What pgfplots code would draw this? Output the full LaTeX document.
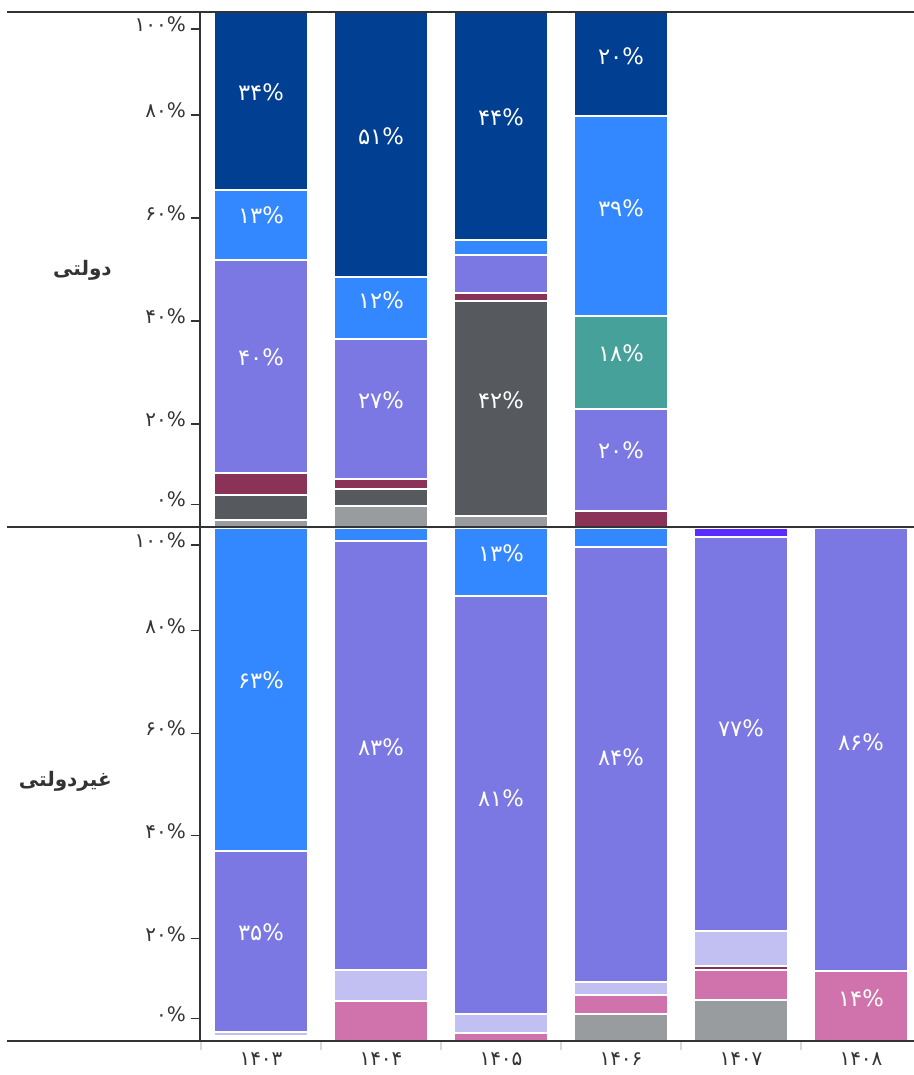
\documentclass[border=0pt]{standalone}
\usepackage{pgfplots}
\pgfplotsset{compat=1.18}
\usepackage{fontspec}
\setmainfont{DejaVu Sans}
\TeXXeTstate=1
\newfontfamily\pf[Script=Arabic]{DejaVu Sans}
\definecolor{cgray}{HTML}{999C9F}
\definecolor{cdark}{HTML}{565A5E}
\definecolor{cmaroon}{HTML}{8B3259}
\definecolor{cpurple}{HTML}{7B78E4}
\definecolor{cteal}{HTML}{46A19B}
\definecolor{cblue}{HTML}{3388FF}
\definecolor{cnavy}{HTML}{003F91}
\definecolor{cpink}{HTML}{D073AC}
\definecolor{clav}{HTML}{C2BFF2}
\definecolor{cviolet}{HTML}{5B2BFF}
\definecolor{ctext}{HTML}{333333}
\definecolor{cline}{HTML}{333333}
\pgfplotsset{
  panel/.style={
    scale only axis, width=535.5pt,
    ybar stacked, bar width=0.783,
    xmin=-0.5083, xmax=5.4417, ymin=0, ymax=100,
    axis x line*=bottom, axis y line*=left,
    x axis line style={draw=none},
    y axis line style={draw=cline, line width=1pt},
    ytick={20,40,60,80},
    yticklabels={{\pf ۲۰\%},{\pf ۴۰\%},{\pf ۶۰\%},{\pf ۸۰\%}},
    extra y ticks={4.4,96.7},
    extra y tick labels={{\pf ۰\%},{\pf ۱۰۰\%}},
    extra y tick style={tick style={draw=none}},
    tick align=outside, major tick length=7pt, minor tick length=7pt,
    y tick style={draw=cline, line width=1pt},
    yticklabel style={font=\fontsize{15}{15}\selectfont, text=ctext, yshift=3.5pt},
    every axis plot/.append style={draw=white, line width=1.5pt, mark=none},
    clip=false,
  },
  labels/.style={
    scale only axis, width=535.5pt, hide axis, clip=false,
    xmin=-0.5083, xmax=5.4417, ymin=0, ymax=100,
    nodes near coords={\pf\pgfplotspointmeta},
    point meta=explicit symbolic,
    every node near coord/.style={anchor=center, font=\fontsize{17}{17}\selectfont, text=white},
  },
}
\begin{document}
\begin{tikzpicture}
\useasboundingbox (0pt,0pt) rectangle (685.5pt,806.25pt);
% top panel
\begin{axis}[panel, height=386.25pt, at={(150pt,411pt)}, anchor=south west,
  xtick=\empty]
\addplot[fill=cgray] coordinates {(0,1.4)(1,4.1)(2,2.1)(3,0)};
\addplot[fill=cdark] coordinates {(0,4.8)(1,3.3)(2,41.8)(3,0)};
\addplot[fill=cmaroon] coordinates {(0,4.3)(1,1.9)(2,1.5)(3,3.1)};
\addplot[fill=cpurple] coordinates {(0,41.3)(1,27.2)(2,7.4)(3,19.8)};
\addplot[fill=cteal] coordinates {(0,0)(1,0)(2,0)(3,18.1)};
\addplot[fill=cblue] coordinates {(0,13.6)(1,12.0)(2,2.9)(3,38.8)};
\addplot[fill=cnavy] coordinates {(0,34.6)(1,51.5)(2,44.3)(3,20.2)};
\end{axis}
\begin{axis}[labels, height=386.25pt, at={(150pt,411pt)}, anchor=south west]
\addplot[only marks, mark=none] coordinates {
(0,84.47)[۳۴\%] (0,60.58)[۱۳\%] (0,33.01)[۴۰\%]
(1,75.92)[۵۱\%] (1,44.08)[۱۲\%] (1,24.66)[۲۷\%]
(2,79.61)[۴۴\%] (2,24.66)[۴۲\%]
(3,91.46)[۲۰\%] (3,61.94)[۳۹\%] (3,33.79)[۱۸\%] (3,14.95)[۲۰\%]
};
\end{axis}
% bottom panel
\begin{axis}[panel, height=384.75pt, at={(150pt,25.5pt)}, anchor=south west,
  xtick={0,1,2,3,4,5},
  xticklabels={{\pf ۱۴۰۳},{\pf ۱۴۰۴},{\pf ۱۴۰۵},{\pf ۱۴۰۶},{\pf ۱۴۰۷},{\pf ۱۴۰۸}},
  major x tick style={draw=none},
  minor xtick={-0.5,0.5,1.5,2.5,3.5,4.5},
  minor x tick style={draw=black!15, line width=1pt},
  xticklabel style={font=\fontsize{15}{15}\selectfont, text=ctext, yshift=1.5pt},
]
\addplot[fill=white] coordinates {(0,1.0)(1,0)(2,0)(3,0)(4,0)(5,0)};
\addplot[fill=cgray] coordinates {(0,0)(1,0)(2,0)(3,5.3)(4,8.0)(5,0)};
\addplot[fill=cpink] coordinates {(0,0)(1,7.8)(2,1.6)(3,3.7)(4,5.9)(5,13.6)};
\addplot[fill=cmaroon] coordinates {(0,0)(1,0)(2,0)(3,0)(4,0.7)(5,0)};
\addplot[fill=clav] coordinates {(0,0.8)(1,6.1)(2,3.7)(3,2.5)(4,6.9)(5,0)};
\addplot[fill=cpurple] coordinates {(0,35.3)(1,83.5)(2,81.5)(3,84.7)(4,76.7)(5,86.4)};
\addplot[fill=cblue] coordinates {(0,62.9)(1,2.6)(2,13.2)(3,3.8)(4,0)(5,0)};
\addplot[fill=cviolet] coordinates {(0,0)(1,0)(2,0)(3,0)(4,1.8)(5,0)};
\end{axis}
\begin{axis}[labels, height=384.75pt, at={(150pt,25.5pt)}, anchor=south west]
\addplot[only marks, mark=none] coordinates {
(0,70.37)[۶۳\%] (0,21.25)[۳۵\%]
(1,57.31)[۸۳\%]
(2,95.13)[۱۳\%] (2,47.37)[۸۱\%]
(3,55.36)[۸۴\%]
(4,61.01)[۷۷\%]
(5,58.28)[۸۶\%] (5,8.38)[۱۴\%]
};
\end{axis}
\draw[cline, line width=1.3pt] (5.25pt,797.25pt) -- (685.5pt,797.25pt);
\draw[cline, line width=1.3pt] (5.25pt,411pt) -- (685.5pt,411pt);
\draw[cline, line width=1.3pt] (5.25pt,25.5pt) -- (685.5pt,25.5pt);
\node[anchor=east, inner sep=0pt, font=\fontsize{15}{15}\selectfont\bfseries, text=ctext] at (84pt,603.75pt) {\pf\beginR دولتی\endR};
\node[anchor=east, inner sep=0pt, font=\fontsize{15}{15}\selectfont\bfseries, text=ctext] at (84pt,220.5pt) {\pf\beginR غیردولتی\endR};
\end{tikzpicture}
\end{document}
